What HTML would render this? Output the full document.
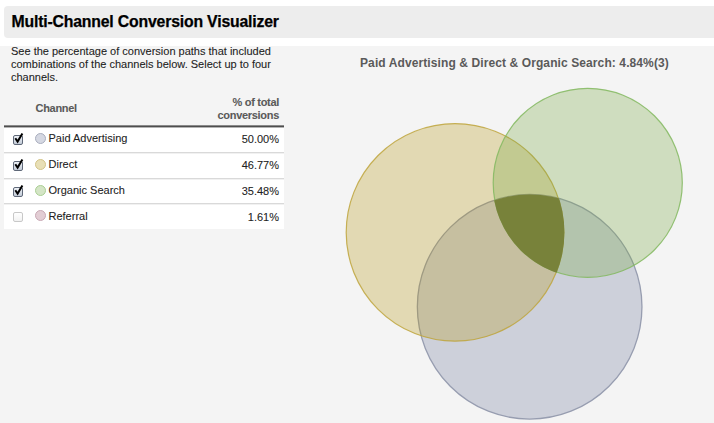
<!DOCTYPE html>
<html><head><meta charset="utf-8">
<style>
html,body{margin:0;padding:0;}
body{width:714px;height:423px;overflow:hidden;background:#fff;position:relative;font-family:"Liberation Sans",sans-serif;}
.hdr{position:absolute;left:4px;top:6px;width:714px;height:32px;background:#ededed;border-radius:4px;}
.title{position:absolute;left:11.5px;top:11.8px;font-size:15.8px;font-weight:bold;color:#000;letter-spacing:-0.18px;white-space:nowrap;line-height:20px;-webkit-text-stroke:0.25px #000;}
.panel{position:absolute;left:0;top:46px;width:714px;height:377px;background:#f4f4f4;}
.desc{position:absolute;left:11px;top:44.5px;width:275px;font-size:11px;line-height:13px;color:#222;-webkit-text-stroke:0.08px currentColor;}
.t{position:absolute;white-space:nowrap;font-size:11px;line-height:13px;-webkit-text-stroke:0.08px currentColor;}
.th{font-weight:bold;color:#5a5a5a;letter-spacing:-0.3px;}
.rule{position:absolute;left:4px;top:125px;width:280px;height:1px;background:#8a8a8a;box-shadow:0 1px 0 #4e4e4e,0 2px 0 #b4b4b4;z-index:2;}
.rows{position:absolute;left:4px;top:127px;width:280px;height:102px;background:#fff;}
.sep{position:absolute;left:4px;width:280px;height:1px;background:#d9d9d9;box-shadow:0 1px 0 #f1f1f1;}
.cb{position:absolute;left:13px;width:8px;height:8px;border:1px solid #5f6878;border-radius:2px;background:linear-gradient(#eef2f7,#c3cbd7);}
.cb.off{border-color:#c8c8c8;background:linear-gradient(#fff,#f2f2f2);}
.ck{position:absolute;left:0;top:0;}
.dot{position:absolute;left:35px;width:9px;height:9px;border-radius:50%;border:1px solid;}
.lab{color:#222;left:48.5px;}
.pct{color:#222;right:435px;text-align:right;}
.ttl{position:absolute;left:360px;top:55.8px;font-size:12px;font-weight:bold;color:#5a5a5a;white-space:nowrap;line-height:14px;letter-spacing:0.1px;}
svg.v{position:absolute;left:0;top:0;}
</style></head><body>
<div class="hdr"></div>
<div class="title">Multi-Channel Conversion Visualizer</div>
<div class="panel"></div>
<div class="desc">See the percentage of conversion paths that included combinations of the channels below. Select up to four channels.</div>
<div class="t th" style="left:35.5px;top:102px;">Channel</div>
<div class="t th" style="right:435px;top:95.6px;text-align:right;">% of total<br>conversions</div>
<div class="rule"></div>
<div class="rows"></div>
<div class="sep" style="top:152px"></div>
<div class="sep" style="top:178px"></div>
<div class="sep" style="top:203px"></div>

<div class="cb" style="top:135px"></div>
<div class="cb" style="top:161px"></div>
<div class="cb" style="top:187px"></div>
<div class="cb off" style="top:212px"></div>
<svg class="ck" width="300" height="240">
<g fill="none" stroke="#000" stroke-width="2" stroke-linecap="butt" stroke-linejoin="miter">
<path d="M15.3 138.3 L17.6 141.6 L22.4 133.6"/>
<path d="M15.3 164.3 L17.6 167.6 L22.4 159.6"/>
<path d="M15.3 190.3 L17.6 193.6 L22.4 185.6"/>
</g>
</svg>

<div class="dot" style="top:133px;background:#d5d8e2;border-color:#a9aebe"></div>
<div class="dot" style="top:159px;background:#e8dfb6;border-color:#d3c488"></div>
<div class="dot" style="top:185px;background:#d4e5c6;border-color:#aacf94"></div>
<div class="dot" style="top:210px;background:#e2cdd4;border-color:#c9a9b5"></div>

<div class="t lab" style="top:132px">Paid Advertising</div>
<div class="t lab" style="top:158px">Direct</div>
<div class="t lab" style="top:184px">Organic Search</div>
<div class="t lab" style="top:210px">Referral</div>
<div class="t pct" style="top:133px">50.00%</div>
<div class="t pct" style="top:159px">46.77%</div>
<div class="t pct" style="top:185px">35.48%</div>
<div class="t pct" style="top:211px">1.61%</div>

<div class="ttl">Paid Advertising &amp; Direct &amp; Organic Search: 4.84%(3)</div>

<svg class="v" width="714" height="423" viewBox="0 0 714 423">
<defs>
<clipPath id="cY"><circle cx="455.0" cy="232.4" r="109.39999999999999" /></clipPath>
<clipPath id="cG"><circle cx="587.75" cy="182.85" r="95.14999999999999" /></clipPath>
</defs>
<circle cx="529.65" cy="306.8" r="112.3" fill="#cdd0da" stroke="#979db0" stroke-width="1.3"/>
<circle cx="455.0" cy="232.4" r="108.8" fill="rgba(178,148,9,0.277)" stroke="rgba(190,165,60,0.85)" stroke-width="1.2"/>
<circle cx="587.75" cy="182.85" r="94.55" fill="rgba(119,167,65,0.296)" stroke="rgba(130,185,95,0.85)" stroke-width="1.2"/>
<g clip-path="url(#cY)"><g clip-path="url(#cG)"><circle cx="529.65" cy="306.8" r="112.2" fill="#78823a"/></g></g>
</svg>
</body></html>
